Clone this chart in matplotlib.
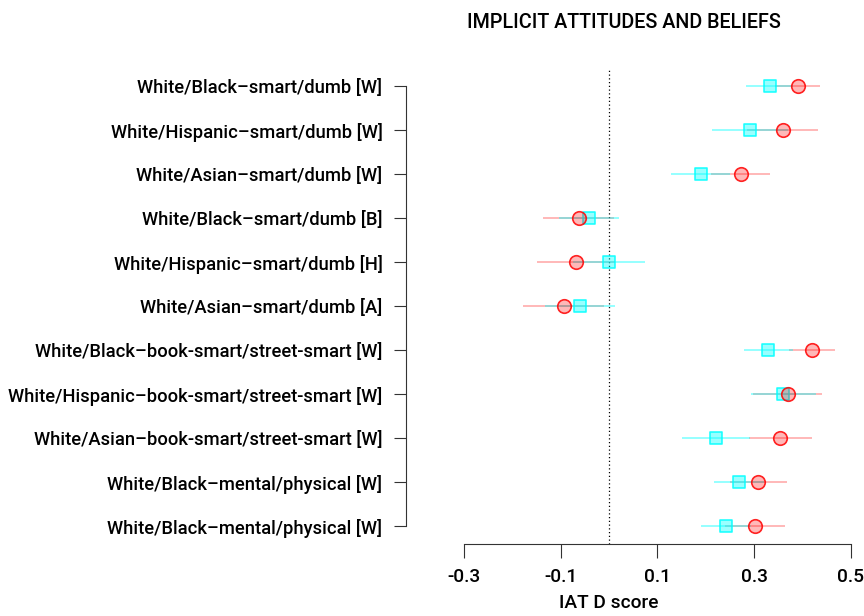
import matplotlib.pyplot as plt
import numpy as np

# Rows top to bottom
labels = [
    "White/Black\u2013smart/dumb [W]",
    "White/Hispanic\u2013smart/dumb [W]",
    "White/Asian\u2013smart/dumb [W]",
    "White/Black\u2013smart/dumb [B]",
    "White/Hispanic\u2013smart/dumb [H]",
    "White/Asian\u2013smart/dumb [A]",
    "White/Black\u2013book-smart/street-smart [W]",
    "White/Hispanic\u2013book-smart/street-smart [W]",
    "White/Asian\u2013book-smart/street-smart [W]",
    "White/Black\u2013mental/physical [W]",
    "White/Black\u2013mental/physical [W]",
]

# red circles: estimate and CI half-width
red_est = [0.390, 0.359, 0.272, -0.063, -0.069, -0.094, 0.419, 0.369, 0.354, 0.308, 0.302]
red_hw = [0.047, 0.073, 0.061, 0.074, 0.081, 0.084, 0.048, 0.072, 0.065, 0.059, 0.062]
# cyan squares
cyan_est = [0.332, 0.291, 0.189, -0.042, 0.000, -0.060, 0.329, 0.360, 0.221, 0.269, 0.242]
cyan_hw = [0.049, 0.078, 0.061, 0.062, 0.075, 0.072, 0.051, 0.067, 0.071, 0.052, 0.051]

xticks = [-0.3, -0.1, 0.1, 0.3, 0.5]
xtick_labels = ["-0.3", "-0.1", "0.1", "0.3", "0.5"]

plt.rcParams['font.family'] = ['Roboto', 'DejaVu Sans']
plt.rcParams['font.weight'] = 'medium'

W, H = 864, 616
fig = plt.figure(figsize=(W / 100, H / 100), dpi=100)
# plot region in pixels: left 406, right 860, top 68, bottom 544
ax = fig.add_axes([406 / W, (H - 544) / H, (860 - 406) / W, (544 - 68.4) / H])

y = np.arange(1, len(labels) + 1)
red = (1, 0, 0)
cy = (0, 1, 1)

ax.hlines(y, np.array(red_est) - red_hw, np.array(red_est) + red_hw, color=red, alpha=0.3, lw=1.3, zorder=2)
ax.hlines(y, np.array(cyan_est) - cyan_hw, np.array(cyan_est) + cyan_hw, color=cy, alpha=0.45, lw=1.3, zorder=2)
ax.scatter(cyan_est, y, marker='s', s=70, facecolor=(0, 1, 1, 0.4), edgecolor=(0, 1, 1, 0.85), lw=1.2, zorder=3)
ax.scatter(red_est, y, marker='o', s=95, facecolor=(1, 0, 0, 0.28), edgecolor=(1, 0, 0, 0.85), lw=1.2, zorder=4)

ax.axvline(0, color='black', ls=(0, (1, 2)), lw=0.9, zorder=1)

x0 = (406 - 609.1) / 483.75
x1 = (860 - 609.1) / 483.75
ax.set_xlim(x0, x1)
ax.set_ylim(11.4, 0.6)

for s in ['top', 'right']:
    ax.spines[s].set_visible(False)
ax.spines['left'].set_bounds(1, 11)
ax.spines['bottom'].set_bounds(-0.3, 0.5)
ax.spines['left'].set_color('#333333')
ax.spines['bottom'].set_color('#333333')

ax.set_yticks(y)
ax.set_yticklabels(labels, fontsize=13.2)
ax.set_xticks(xticks)
ax.set_xticklabels(xtick_labels, fontsize=13.8)
ax.tick_params(axis='y', length=9, pad=8, color='#333333')
ax.tick_params(axis='x', length=10, pad=7, color='#333333')

fig.text(623.5 / W, 1 - 22.7 / H, "IMPLICIT ATTITUDES AND BELIEFS", ha='center', va='center', fontsize=14.2)
ax.text(0, -0.125, "IAT D score", transform=ax.get_xaxis_transform(), ha='center', va='center', fontsize=13.8)

fig.savefig("out.png", dpi=100)
